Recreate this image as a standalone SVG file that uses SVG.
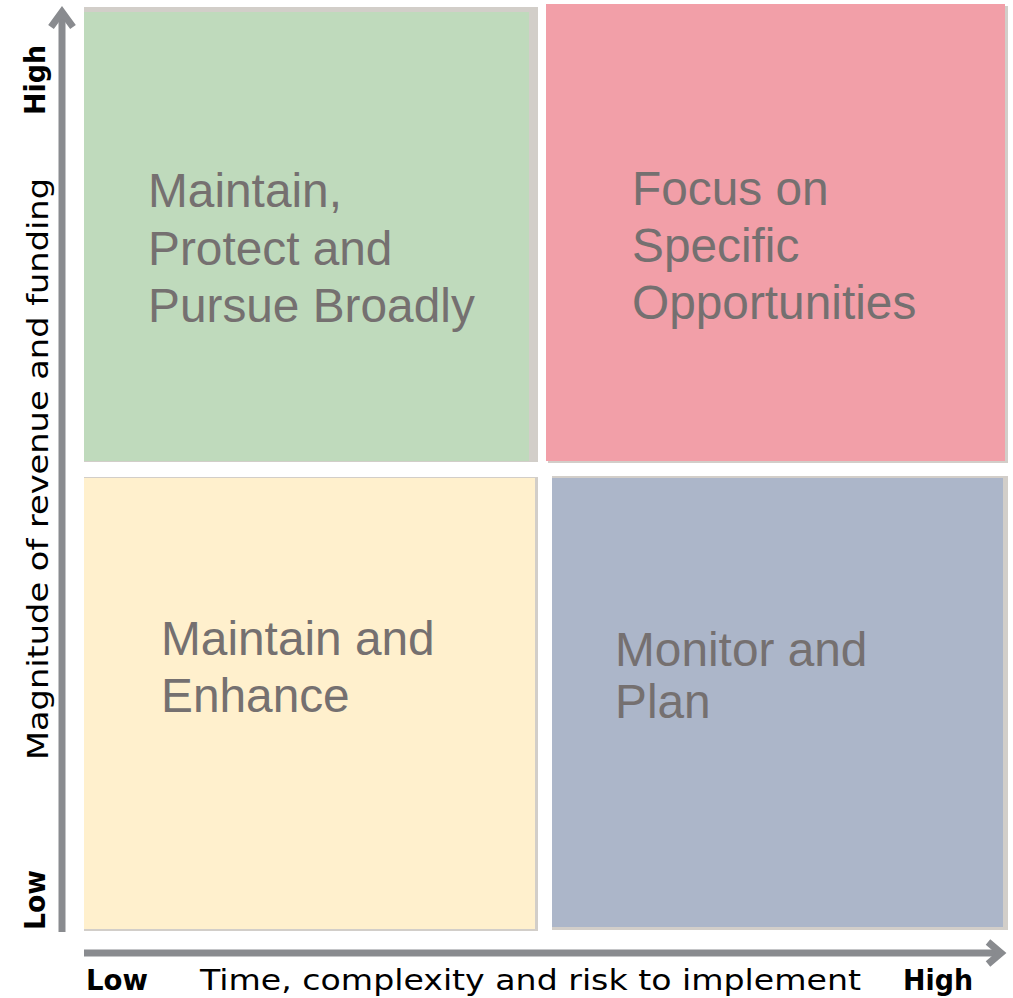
<svg xmlns="http://www.w3.org/2000/svg" width="1013" height="998" viewBox="0 0 1013 998">
<style>
.q{font-family:"Liberation Sans",Arial,sans-serif;font-size:47.8px;fill:#757070}
.ax{font-family:"DejaVu Sans",sans-serif;font-size:29px;fill:#000}
.axb{font-family:"DejaVu Sans",sans-serif;font-size:29px;font-weight:bold;fill:#000}
.sh{fill:#D2CEC9}
.axis{stroke:#898B8F;stroke-width:7;fill:none}
</style>
<rect width="1013" height="998" fill="#fff"/>
<g id="q-green">
<rect class="sh" x="84" y="7" width="454" height="455"/>
<rect x="84" y="12" width="445" height="449" fill="#BFDABC"/>
<text class="q"><tspan x="148" y="207">Maintain,</tspan><tspan x="148" y="265">Protect and</tspan><tspan x="148" y="322">Pursue Broadly</tspan></text>
</g>
<g id="q-pink">
<rect class="sh" x="548" y="6" width="460" height="457"/>
<rect x="546" y="4" width="459" height="457" fill="#F29FA8"/>
<text class="q"><tspan x="632" y="205">Focus on</tspan><tspan x="632" y="262">Specific</tspan><tspan x="632" y="319">Opportunities</tspan></text>
</g>
<g id="q-yellow">
<rect class="sh" x="84" y="477" width="454" height="454"/>
<rect x="84" y="478" width="451" height="451" fill="#FFF0CD"/>
<text class="q"><tspan x="161" y="655">Maintain and</tspan><tspan x="161" y="712">Enhance</tspan></text>
</g>
<g id="q-blue">
<rect class="sh" x="552" y="476" width="456" height="454"/>
<rect x="552" y="478" width="451" height="449" fill="#ACB6C9"/>
<text class="q"><tspan x="615" y="666">Monitor and</tspan><tspan x="615" y="718">Plan</tspan></text>
</g>
<g id="connectors">
<line class="axis" x1="62" y1="932" x2="62" y2="12"/>
<polyline class="axis" points="51,27 62,12 73,27" stroke-linejoin="miter"/>
<line class="axis" x1="84" y1="953" x2="1000" y2="953"/>
<polyline class="axis" points="988,942 1001,953 988,964" stroke-linejoin="miter"/>
</g>
<g id="labels">
<text class="ax" transform="translate(48,760) rotate(-90)" textLength="582" lengthAdjust="spacingAndGlyphs">Magnitude of revenue and funding</text>
<text class="axb" transform="translate(45,115) rotate(-90)" textLength="70" lengthAdjust="spacingAndGlyphs">High</text>
<text class="axb" transform="translate(45,930) rotate(-90)" textLength="60" lengthAdjust="spacingAndGlyphs">Low</text>
<text class="axb" x="86" y="990" textLength="62" lengthAdjust="spacingAndGlyphs">Low</text>
<text class="ax" x="200" y="990" textLength="661" lengthAdjust="spacingAndGlyphs">Time, complexity and risk to implement</text>
<text class="axb" x="903" y="990" textLength="70" lengthAdjust="spacingAndGlyphs">High</text>
</g>
</svg>
